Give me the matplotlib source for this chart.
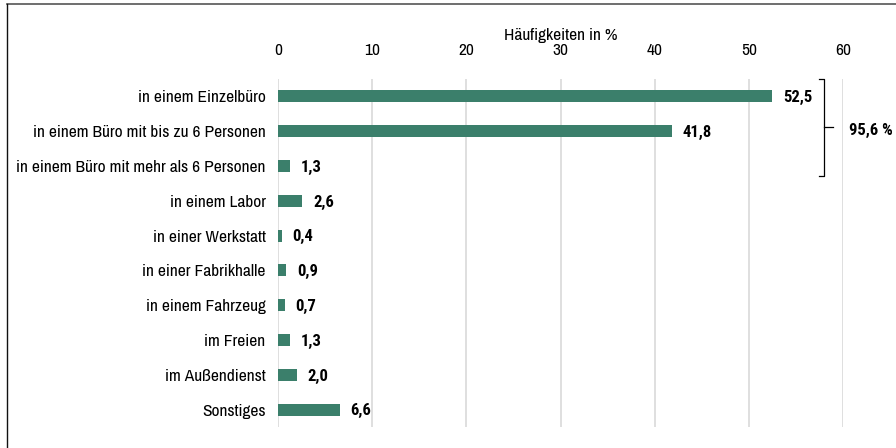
import matplotlib
matplotlib.use("Agg")
import matplotlib.pyplot as plt
from matplotlib.lines import Line2D

categories = [
    "in einem Einzelbüro",
    "in einem Büro mit bis zu 6 Personen",
    "in einem Büro mit mehr als 6 Personen",
    "in einem Labor",
    "in einer Werkstatt",
    "in einer Fabrikhalle",
    "in einem Fahrzeug",
    "im Freien",
    "im Außendienst",
    "Sonstiges",
]
values = [52.5, 41.8, 1.3, 2.6, 0.4, 0.9, 0.7, 1.3, 2.0, 6.6]
xticks = [0, 10, 20, 30, 40, 50, 60]
axis_title = "Häufigkeiten in %"
bracket_label = "95,6 %"

plt.rcParams['font.family'] = ['Archivo Narrow', 'Liberation Sans', 'DejaVu Sans']
BOLD_FAMILY = ['Roboto Condensed', 'Liberation Sans', 'DejaVu Sans']
FS = 12.5
FSB = 12

W, H = 896, 448
fig = plt.figure(figsize=(W / 100, H / 100), dpi=100)
ax = fig.add_axes([278 / W, 1 - 427 / H, (843 - 278) / W, (427 - 79) / H])

y = list(range(len(categories)))
ax.barh(y, values, height=0.34, color="#3B7F6B", zorder=3)
ax.set_xlim(0, 60)
ax.set_ylim(len(categories) - 0.5, -0.5)
ax.set_xticks(xticks)
ax.xaxis.tick_top()
ax.xaxis.set_label_position("top")
ax.set_xlabel(axis_title, fontsize=FS, labelpad=2)
ax.set_yticks(y)
ax.set_yticklabels(categories, fontsize=FS)
ax.tick_params(axis="both", length=0, labelsize=FS, colors="#000000")
ax.tick_params(axis="x", pad=15)
ax.tick_params(axis="y", pad=9)
ax.grid(axis="x", color="#D9D9D9", linewidth=1.2, zorder=0)
for s in ax.spines.values():
    s.set_visible(False)

for yi, v in zip(y, values):
    ax.annotate(f"{v:.1f}".replace(".", ","), xy=(v, yi), xytext=(7.5, -1),
                textcoords="offset points", va="center", ha="left",
                fontsize=FSB, fontweight="bold", family=BOLD_FAMILY)

# bracket for first three rows
bx = 58.0
y0, y1 = -0.5, 2.28
ym = (y0 + y1) / 2
ax.plot([bx - 0.5, bx, bx, bx - 0.5], [y0, y0, y1, y1], color="black", lw=0.9,
        clip_on=False, zorder=4)
ax.plot([bx, bx + 0.9], [ym, ym], color="black", lw=0.9, clip_on=False, zorder=4)
ax.text(bx + 2.6, ym + 0.1, bracket_label, va="center", ha="left", fontsize=FSB,
        fontweight="bold", family=BOLD_FAMILY)

# figure frame (top and left)
fig.add_artist(Line2D([7 / W, 1], [1 - 4 / H, 1 - 4 / H], color="#555555", lw=1.2,
                      transform=fig.transFigure))
fig.add_artist(Line2D([7 / W, 7 / W], [0, 1 - 4 / H], color="#111111", lw=1.0,
                      transform=fig.transFigure))

fig.savefig("out.png", dpi=100)
